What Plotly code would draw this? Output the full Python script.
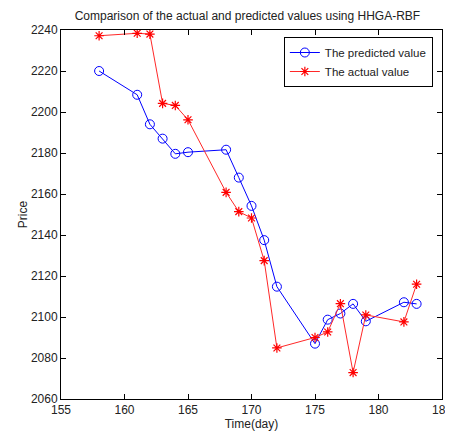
import plotly.graph_objects as go

days = [158, 161, 162, 163, 164, 165, 168, 169, 170, 171, 172, 175, 176, 177, 178, 179, 182, 183]
predicted = [2220.0, 2208.4, 2194.0, 2187.0, 2179.6, 2180.4, 2181.6, 2168.0, 2154.2, 2137.5, 2114.8,
             2087.0, 2098.7, 2101.7, 2106.4, 2097.9, 2107.2, 2106.4]
actual = [2237.2, 2238.4, 2238.0, 2204.2, 2203.2, 2196.2, 2160.8, 2151.4, 2148.3, 2127.5, 2084.9,
          2090.0, 2092.7, 2106.5, 2072.9, 2101.0, 2097.6, 2116.0]
x_ticks = [155, 160, 165, 170, 175, 180, 185]
y_ticks = [2060, 2080, 2100, 2120, 2140, 2160, 2180, 2200, 2220, 2240]

FONT = "Liberation Sans, Arial, sans-serif"
TXT = "#222"

fig = go.Figure()
fig.add_trace(go.Scatter(
    x=days, y=predicted, mode="lines+markers", name="The predicted value",
    line=dict(color="#0000ff", width=1),
    marker=dict(symbol="circle-open", size=9, color="#0000ff", line=dict(width=1)),
))
fig.add_trace(go.Scatter(
    x=days, y=actual, mode="lines+markers", name="The actual value",
    line=dict(color="#ff2828", width=1),
    marker=dict(symbol="asterisk-open", size=8, color="#ff0000", line=dict(width=1.2, color="#ff0000")),
))

axis_common = dict(
    showgrid=False, zeroline=False, showline=True, linecolor="black", linewidth=1,
    mirror="ticks", ticks="inside", ticklen=5, tickcolor="black",
    tickfont=dict(family=FONT, size=12, color=TXT), automargin=False,
)
fig.update_xaxes(range=[155, 185], tickvals=x_ticks, ticktext=[str(v) for v in x_ticks],
                 title=dict(text="Time(day)", font=dict(family=FONT, size=12, color=TXT), standoff=0),
                 **axis_common)
fig.update_yaxes(range=[2060, 2240], tickvals=y_ticks, ticktext=[str(v) for v in y_ticks],
                 title=dict(text="Price", font=dict(family=FONT, size=12, color=TXT), standoff=0),
                 **axis_common)

fig.update_layout(
    width=445, height=433,
    margin=dict(l=53, r=11, t=22, b=42),
    paper_bgcolor="white", plot_bgcolor="white",
    title=dict(text="Comparison of the actual and predicted values using HHGA-RBF",
               font=dict(family=FONT, size=12, color=TXT),
               x=0.538, xanchor="center", y=0.992, yanchor="top", pad=dict(t=0, b=0),
               automargin=False),
    legend=dict(x=0.976, y=0.981, xanchor="right", yanchor="top",
                bordercolor="black", borderwidth=1, bgcolor="white",
                font=dict(family=FONT, size=11.5, color=TXT),
                itemwidth=30, tracegroupgap=0),
    showlegend=True,
)

fig.write_html("out.html")
